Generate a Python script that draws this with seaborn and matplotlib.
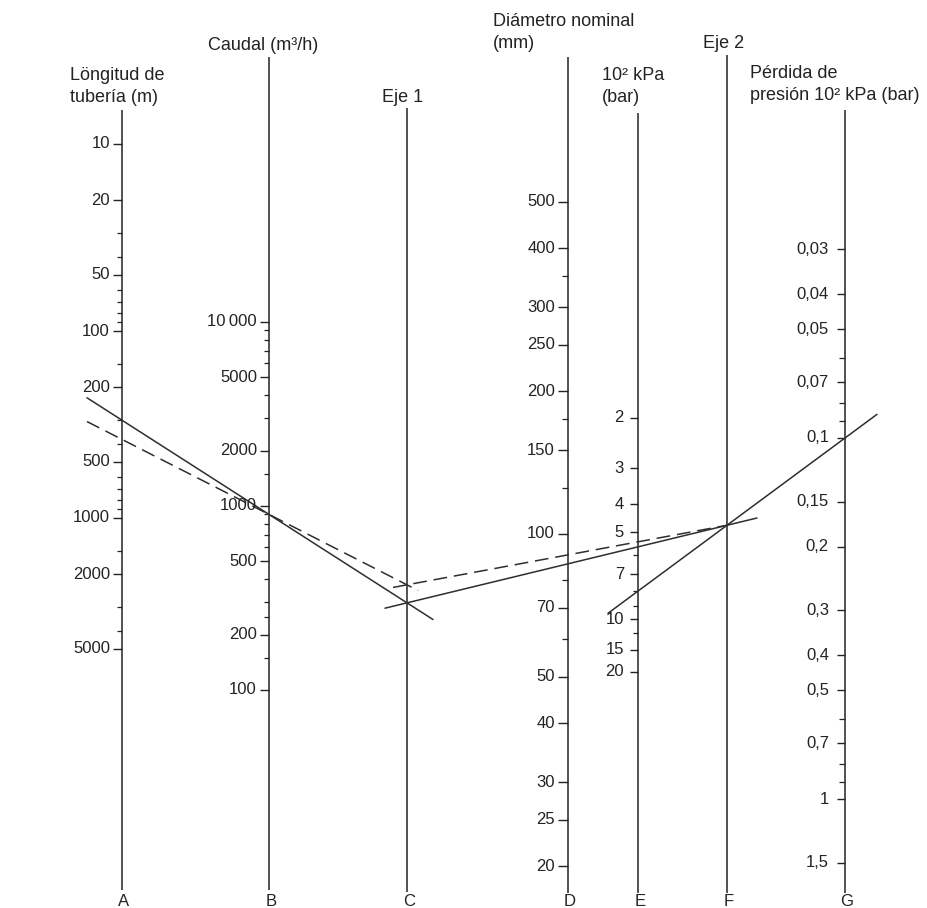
import numpy as np
import pandas as pd
import matplotlib
matplotlib.use("Agg")
import matplotlib.pyplot as plt
import seaborn as sns

# ---------------------------------------------------------------- data
# A: pipe length (m)
length_ticks = [10, 20, 50, 100, 200, 500, 1000, 2000, 5000]
length_labels = ["10", "20", "50", "100", "200", "500", "1000", "2000", "5000"]
length_minor = [30, 40, 60, 70, 80, 90, 150, 300, 400, 600, 700, 800, 900,
                1500, 3000, 4000]

# B: flow (m3/h)
flow_ticks = [10000, 5000, 2000, 1000, 500, 200, 100]
flow_labels = ["10\u2009000", "5000", "2000", "1000", "500", "200", "100"]
flow_minor = [9000, 8000, 7000, 6000, 4000, 3000, 1500, 900, 800, 700, 600,
              400, 300, 250, 150]

# D: nominal diameter (mm)
diam_ticks = [500, 400, 300, 250, 200, 150, 100, 70, 50, 40, 30, 25, 20]
diam_labels = [str(v) for v in diam_ticks]
diam_minor = [350, 175, 125, 80, 60]

# E: pressure 10^2 kPa (bar)
press_ticks = [2, 3, 4, 5, 7, 10, 15, 20]
press_labels = [str(v) for v in press_ticks]
press_minor = [6, 8, 9, 12]

# G: pressure loss 10^2 kPa (bar)
loss_ticks = [0.03, 0.04, 0.05, 0.07, 0.1, 0.15, 0.2, 0.3, 0.4, 0.5, 0.7, 1, 1.5]
loss_labels = ["0,03", "0,04", "0,05", "0,07", "0,1", "0,15", "0,2", "0,3",
               "0,4", "0,5", "0,7", "1", "1,5"]
loss_minor = [0.06, 0.08, 0.09, 0.6, 0.8, 0.9]

# worked examples: (length, flow) on the left, (pressure, loss) on the right
example_solid = {"length": 300, "flow": 900, "pressure": 8, "loss": 0.1}
example_dashed = {"length": 380, "flow": 900}

# ---------------------------------------------------------------- layout
# canvas units = pixels, origin at top-left
W, H = 927, 908
axes_geo = {
    "A": dict(x=122, top=110, bottom=890),
    "B": dict(x=269, top=57, bottom=890),
    "C": dict(x=407, top=108, bottom=892),
    "D": dict(x=568, top=57, bottom=893),
    "E": dict(x=638, top=113, bottom=893),
    "F": dict(x=727, top=55, bottom=893),
    "G": dict(x=845, top=110, bottom=893),
}
# log scales: reference value, its position and pixels per decade
scales = {
    "A": dict(ref=100, pos=331, k=187),
    "B": dict(ref=1000, pos=506, k=-184),
    "D": dict(ref=100, pos=534, k=-475),
    "E": dict(ref=10, pos=619, k=288, k_hi=175),
    "G": dict(ref=0.1, pos=438, k=361),
}


def to_y(axis, v):
    s = scales[axis]
    d = np.log10(np.asarray(v, dtype=float) / s["ref"])
    k_hi = s.get("k_hi", s["k"])
    return s["pos"] + np.where(d > 0, k_hi * d, s["k"] * d)


INK = "#232323"
LINE_INK = "#2e2e2e"

sns.set_theme(style="white")
plt.rcParams["font.family"] = ["Liberation Sans", "DejaVu Sans"]

fig = plt.figure(figsize=(W / 100, H / 100), dpi=100)
ax = fig.add_axes([0, 0, 1, 1])
ax.set_xlim(0, W)
ax.set_ylim(H, 0)
ax.axis("off")

# scale lines
for name, g in axes_geo.items():
    ax.vlines(g["x"], g["top"], g["bottom"], color=INK, lw=1.1)
    ax.text(g["x"] + 2, 902, name, ha="center", va="center",
            fontsize=12, color=INK)

TICK_FS = 12


def draw_scale(axis, ticks, labels, minor, major_len, minor_len, gap):
    x = axes_geo[axis]["x"]
    ys = to_y(axis, ticks)
    ax.hlines(ys, x - major_len, x, color=INK, lw=1.0)
    for y, lab in zip(ys, labels):
        ax.text(x - major_len - gap, y, lab, ha="right", va="center",
                fontsize=TICK_FS, color=INK)
    if minor:
        ym = to_y(axis, minor)
        ax.hlines(ym, x - minor_len, x, color=INK, lw=0.9)


draw_scale("A", length_ticks, length_labels, length_minor, 9, 5, 3)
draw_scale("B", flow_ticks, flow_labels, flow_minor, 9, 5, 3)
draw_scale("D", diam_ticks, diam_labels, diam_minor, 10, 6, 3)
draw_scale("E", press_ticks, press_labels, press_minor, 8, 5, 6)
draw_scale("G", loss_ticks, loss_labels, loss_minor, 8, 6, 8)

# headings
TITLE_FS = 13
heads = [
    (70, 75, "Löngitud de"), (70, 98, "tubería (m)"),
    (208, 46, "Caudal (m³/h)"),
    (382, 98, "Eje 1"),
    (493, 22, "Diámetro nominal"), (493, 44, "(mm)"),
    (602, 75, "10² kPa"), (602, 98, "(bar)"),
    (703, 43, "Eje 2"),
    (750, 73, "Pérdida de"), (750, 96, "presión 10² kPa (bar)"),
]
for x, y, t in heads:
    ax.text(x, y, t, ha="left", va="center", fontsize=TITLE_FS, color=INK)


# ---------------------------------------------------------------- reading lines
def point(axis, v):
    return axes_geo[axis]["x"], float(to_y(axis, v))


def through(p, q, x):
    (x0, y0), (x1, y1) = p, q
    return y0 + (y1 - y0) * (x - x0) / (x1 - x0)


def segment(p, q, x_start, x_end):
    return [(x_start, through(p, q, x_start)), (x_end, through(p, q, x_end))]


xA, xC, xE = axes_geo["A"]["x"], axes_geo["C"]["x"], axes_geo["E"]["x"]
xF, xG = axes_geo["F"]["x"], axes_geo["G"]["x"]

# solid example
pA = point("A", example_solid["length"])
pB = point("B", example_solid["flow"])
pC = (xC, through(pA, pB, xC))
pE = point("E", example_solid["pressure"])
pG = point("G", example_solid["loss"])
pF = (xF, through(pE, pG, xF))

# dashed example
qA = point("A", example_dashed["length"])
qB = point("B", example_dashed["flow"])
qC = (xC, through(qA, qB, xC))

segments = [
    ("s1", "solid", segment(pA, pB, xA - 35, xC + 26)),
    ("s2", "solid", segment(pC, pF, xC - 22, xF + 30)),
    ("s3", "solid", segment(pE, pG, xE - 30, xG + 32)),
    ("d1", "dashed", segment(qA, qB, xA - 35, xC + 11)),
    ("d2", "dashed", segment(qC, pF, xC - 14, xF)),
]
rows = []
for seg, kind, pts in segments:
    for x, y in pts:
        rows.append({"x": x, "y": y, "seg": seg, "kind": kind})
lines_df = pd.DataFrame(rows)

sns.lineplot(data=lines_df, x="x", y="y", units="seg", estimator=None,
             style="kind", dashes={"solid": "", "dashed": (9, 4.5)},
             color=LINE_INK, lw=1.1, sort=False, legend=False, ax=ax)

ax.set_xlim(0, W)
ax.set_ylim(H, 0)
ax.axis("off")

fig.savefig("out.png", dpi=100, facecolor="white")
